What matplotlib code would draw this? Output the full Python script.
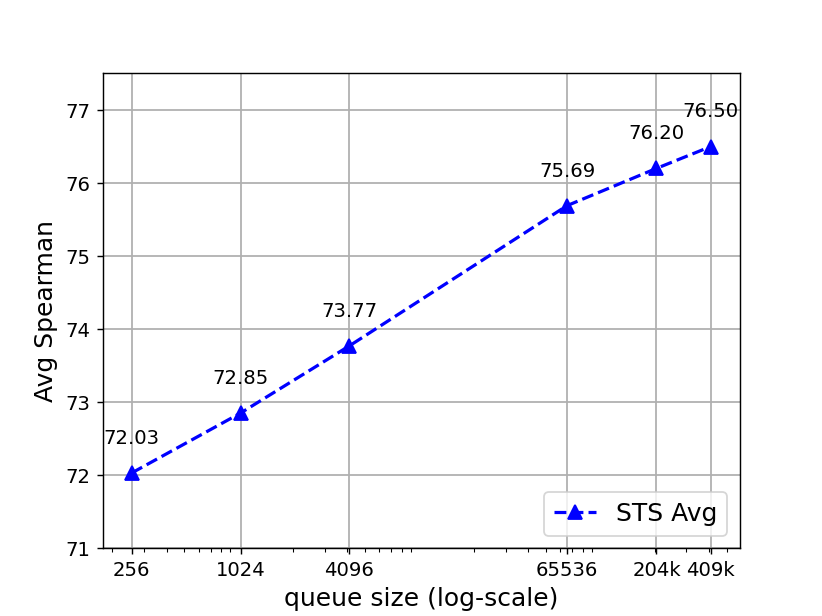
import matplotlib
matplotlib.use("Agg")
import matplotlib.pyplot as plt

# queue sizes and STS average spearman
queue_sizes = [256, 1024, 4096, 65536, 204800, 409600]
tick_labels = ["256", "1024", "4096", "65536", "204k", "409k"]
sts_avg = [72.03, 72.85, 73.77, 75.69, 76.20, 76.50]

fig, ax = plt.subplots(figsize=(6.4, 4.8), dpi=128.44)
ax.plot(queue_sizes, sts_avg, "b--^", markersize=8, linewidth=1.8, label="STS Avg")
ax.set_xscale("log")
ax.set_xticks(queue_sizes)
ax.set_xticklabels(tick_labels)
ax.set_ylim(71, 77.5)

for x, y in zip(queue_sizes, sts_avg):
    ax.text(x, y + 0.48, "%.2f" % y, ha="center", va="center", fontsize=11)

ax.grid(True, which="major", linewidth=1)
ax.tick_params(axis="both", labelsize=11)
ax.set_xlabel("queue size (log-scale)", fontsize=14)
ax.set_ylabel("Avg Spearman", fontsize=14)
ax.legend(loc="lower right", fontsize=14, handlelength=1.7)

plt.savefig("out.png", dpi=128.44)
